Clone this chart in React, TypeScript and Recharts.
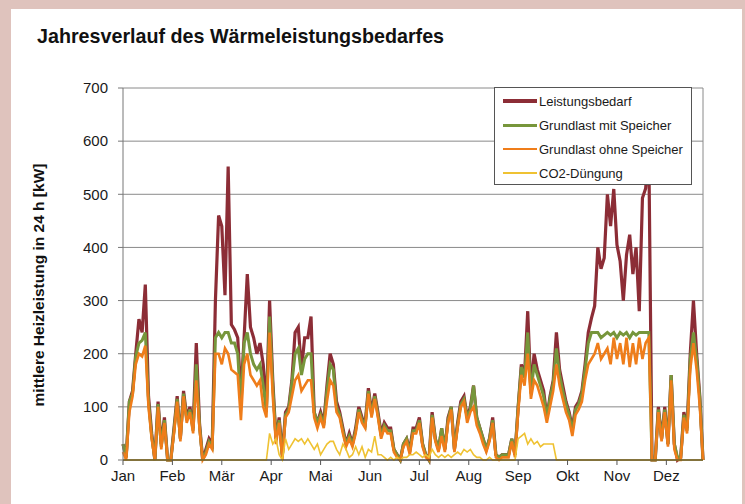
import { LineChart, Line, XAxis, YAxis, CartesianGrid, Legend, ReferenceLine } from "recharts";

// one value every 2 days, Jan 1 .. Dec 31
const leistungsbedarf = [
  30, 5, 110, 130, 200, 265, 240, 330, 120, 50, 0, 110, 30, 80, 0, 0,
  60, 120, 40, 130, 80, 100, 60, 220, 70, 0, 20, 40, 30, 300,
  460, 440, 310, 552, 255, 245, 230, 120, 230, 350, 250, 230, 200, 220, 180,
  100, 300, 150, 40, 80, 10, 90, 100, 150, 240, 250, 170, 230, 230, 270,
  90, 70, 90, 70, 140, 200, 180, 110, 90, 60, 30, 50, 30, 60, 100, 80,
  70, 135, 90, 125, 90, 50, 70, 60, 60, 20, 10, 0, 30, 40, 20,
  60, 60, 80, 30, 10, 0, 90, 40, 20, 60, 20, 80, 100, 20, 70,
  110, 120, 80, 100, 140, 80, 60, 40, 20, 40, 80, 10, 5, 10, 10, 10,
  40, 10, 100, 180, 160, 280, 130, 200, 170, 150, 130, 80, 120, 150, 240,
  170, 140, 110, 90, 60, 100, 110, 130, 180, 240, 267, 290, 400, 360, 380,
  500, 440, 510, 405, 374, 300, 386, 424, 350, 400, 280, 493, 511, 580, 0,
  0, 100, 40, 100, 30, 160, 30, 0, 5, 90, 60, 200, 300, 200, 120, 0,
];

const grundlastMitSpeicher = [
  30, 5, 110, 125, 195, 220, 225, 240, 110, 45, 0, 105, 25, 75, 0, 0,
  55, 115, 40, 125, 75, 95, 55, 180, 65, 0, 15, 35, 25, 230,
  240, 230, 240, 240, 220, 220, 200, 100, 220, 240, 200, 180, 170, 180, 140,
  90, 270, 140, 40, 75, 5, 85, 95, 145, 200, 210, 160, 190, 200, 200,
  90, 70, 85, 65, 130, 180, 170, 100, 85, 55, 30, 45, 30, 55, 95, 75,
  65, 130, 85, 120, 85, 45, 65, 55, 55, 20, 10, 0, 30, 40, 15,
  55, 55, 75, 30, 10, 0, 85, 40, 20, 60, 20, 75, 100, 20, 65,
  105, 115, 80, 95, 140, 80, 60, 40, 20, 40, 75, 10, 5, 10, 10, 10,
  40, 10, 100, 175, 155, 240, 125, 180, 160, 140, 120, 80, 115, 145, 210,
  160, 130, 105, 85, 55, 95, 105, 125, 170, 220, 240, 240, 240, 230, 235,
  240, 235, 240, 230, 240, 235, 240, 230, 240, 235, 240, 240, 240, 240, 0,
  0, 95, 40, 95, 30, 160, 30, 5, 5, 85, 55, 190, 240, 190, 115, 0,
];

const grundlastOhneSpeicher = [
  15, 0, 90, 120, 180, 200, 195, 215, 100, 40, 0, 100, 20, 70, 0, 0,
  50, 110, 35, 120, 70, 90, 50, 150, 60, 0, 10, 30, 20, 200,
  200, 180, 210, 200, 170, 165, 160, 75, 180, 200, 160, 150, 140, 150, 100,
  80, 240, 120, 30, 70, 0, 80, 90, 120, 150, 160, 130, 140, 150, 150,
  80, 60, 80, 60, 110, 150, 140, 90, 80, 50, 25, 40, 25, 50, 90, 70,
  60, 125, 80, 115, 80, 40, 60, 50, 50, 15, 5, 0, 25, 35, 10,
  50, 50, 70, 25, 5, 0, 80, 35, 15, 45, 15, 70, 95, 15, 60,
  100, 110, 70, 90, 100, 65, 50, 30, 15, 35, 70, 5, 0, 5, 5, 5,
  35, 5, 90, 160, 140, 200, 115, 150, 140, 120, 100, 70, 100, 130, 180,
  140, 115, 90, 75, 45, 85, 95, 110, 150, 180, 190, 200, 220, 190, 200,
  210, 180, 230, 190, 220, 180, 230, 175, 220, 180, 230, 190, 220, 230, 0,
  0, 90, 35, 90, 25, 150, 20, 0, 0, 80, 50, 170, 220, 170, 100, 0,
];

const co2Duengung = [
  0, 0, 0, 0, 0, 0, 0, 0, 0, 0, 0, 0, 0, 0, 0, 0,
  0, 0, 0, 0, 0, 0, 0, 0, 0, 0, 0, 0, 0, 0,
  0, 0, 0, 0, 0, 0, 0, 0, 0, 0, 0, 0, 0, 0, 0,
  0, 50, 30, 40, 10, 0, 40, 20, 30, 40, 35, 40, 30, 40, 30,
  20, 30, 10, 20, 30, 35, 35, 20, 10, 30, 20, 5, 10, 25, 10, 25,
  5, 20, 15, 45, 10, 10, 5, 0, 5, 0, 5, 0, 5, 5, 10,
  10, 15, 10, 5, 10, 5, 20, 10, 5, 10, 5, 10, 5, 10, 15,
  10, 20, 15, 20, 10, 5, 5, 0, 0, 5, 0, 0, 0, 0, 0, 0,
  0, 0, 40, 45, 50, 30, 40, 30, 35, 25, 30, 30, 30, 30, 0,
  0, 0, 0, 0, 0, 0, 0, 0, 0, 0, 0, 0, 0, 0, 0,
  0, 0, 0, 0, 0, 0, 0, 0, 0, 0, 0, 0, 0, 0, 0,
  0, 0, 0, 0, 0, 0, 0, 0, 0, 0, 0, 0, 0, 0, 0, 0,
];

const monthLabels = ["Jan", "Feb", "Mär", "Apr", "Mai", "Jun", "Jul", "Aug", "Sep", "Okt", "Nov", "Dez"];
const monthTicks = [0, 31, 62, 93, 124, 155, 186, 217, 248, 279, 310, 341];
const yTicks = [0, 100, 200, 300, 400, 500, 600, 700];
const seriesNames = ["Leistungsbedarf", "Grundlast mit Speicher", "Grundlast ohne Speicher", "CO2-Düngung"];

const data = leistungsbedarf.map((v, i) => ({
  day: i * 2,
  leistung: v,
  mit: grundlastMitSpeicher[i],
  ohne: grundlastOhneSpeicher[i],
  co2: co2Duengung[i],
}));

const FONT = "'Liberation Sans', Arial, sans-serif";
const lineWidths = [3.2, 3, 2.6, 1.6];

function LegendBox({ payload }: any) {
  // keep the series order, recharts sorts the payload by name
  const items = [...(payload || [])].sort((a: any, b: any) => seriesNames.indexOf(a.value) - seriesNames.indexOf(b.value));
  return (
    <div
      style={{
        width: 198,
        height: 98,
        boxSizing: "border-box",
        border: "1px solid #555",
        background: "#fff",
        padding: "1px 0 0 8px",
        fontFamily: FONT,
        fontSize: 13,
        color: "#1a1a1a",
      }}
    >
      {items.map((p: any) => (
        <div key={p.value} style={{ display: "flex", alignItems: "center", height: 24 }}>
          <span style={{ width: 34, height: lineWidths[seriesNames.indexOf(p.value)], background: p.color, display: "inline-block" }} />
          <span style={{ marginLeft: 2 }}>{p.value}</span>
        </div>
      ))}
    </div>
  );
}

function YLabel() {
  return (
    <text
      x={38}
      y={285}
      transform="rotate(-90 38 285)"
      textAnchor="middle"
      dominantBaseline="central"
      fontFamily={FONT}
      fontWeight="bold"
      fontSize={15.5}
      fill="#111"
    >
      mittlere Heizleistung in 24 h [kW]
    </text>
  );
}

export default function App() {
  return (
    <div style={{ position: "absolute", left: 0, top: 0, width: 745, height: 504, background: "#dfc3bd" }}>
      <div style={{ position: "absolute", left: 11, top: 9, width: 731, height: 495, background: "#fff" }} />
      <div
        style={{
          position: "absolute",
          left: 37,
          top: 25,
          fontFamily: FONT,
          fontWeight: "bold",
          fontSize: 19.7,
          color: "#111",
          whiteSpace: "nowrap",
        }}
      >
        Jahresverlauf des Wärmeleistungsbedarfes
      </div>
      <div style={{ position: "absolute", left: 0, top: 0 }}>
        <LineChart width={745} height={504} data={data} margin={{ top: 88, right: 42, bottom: 14, left: 63 }}>
          <CartesianGrid vertical={false} stroke="#8a8a8a" strokeWidth={1} />
          <XAxis
            dataKey="day"
            type="number"
            domain={[0, 364]}
            ticks={monthTicks}
            tickFormatter={(v: number) => monthLabels[monthTicks.indexOf(v)]}
            height={30}
            tickSize={5}
            tickMargin={5}
            axisLine={{ stroke: "#222" }}
            tickLine={{ stroke: "#555" }}
            tick={{ fontFamily: FONT, fontSize: 15, fill: "#1a1a1a" }}
          />
          <YAxis
            domain={[0, 700]}
            ticks={yTicks}
            width={60}
            tickSize={5}
            tickMargin={10}
            axisLine={{ stroke: "#777" }}
            tickLine={{ stroke: "#777" }}
            tick={{ fontFamily: FONT, fontSize: 15, fill: "#1a1a1a" }}
            label={<YLabel />}
          />
          <ReferenceLine x={364} stroke="#8a8a8a" />
          <Line dataKey="leistung" name="Leistungsbedarf" type="linear" stroke="#8c2d36" strokeWidth={3.2} dot={false} isAnimationActive={false} />
          <Line dataKey="mit" name="Grundlast mit Speicher" type="linear" stroke="#77963b" strokeWidth={3} dot={false} isAnimationActive={false} />
          <Line dataKey="ohne" name="Grundlast ohne Speicher" type="linear" stroke="#ef7d1a" strokeWidth={2.6} dot={false} isAnimationActive={false} />
          <Line dataKey="co2" name="CO2-Düngung" type="linear" stroke="#efc232" strokeWidth={1.6} dot={false} isAnimationActive={false} />
          <Legend
            verticalAlign="top"
            align="right"
            content={<LegendBox />}
            wrapperStyle={{ position: "absolute", left: 494, top: 87, width: 198, height: 0, overflow: "visible" }}
          />
        </LineChart>
      </div>
    </div>
  );
}
